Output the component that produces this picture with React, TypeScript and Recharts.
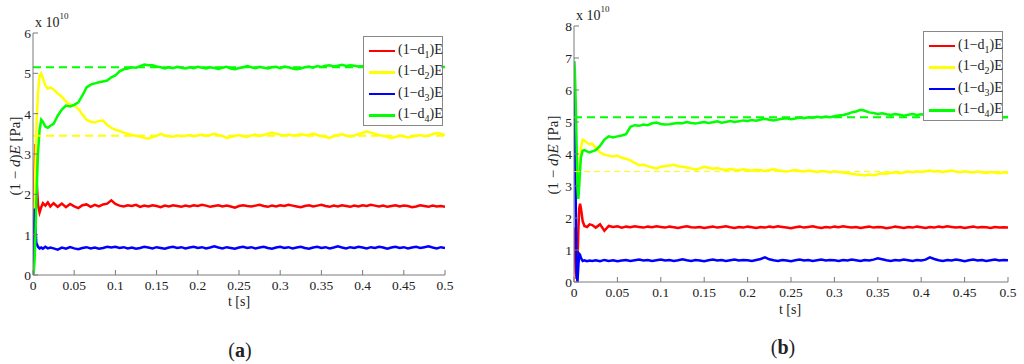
import React from 'react';
import { LineChart, Line, XAxis, YAxis, ReferenceLine } from 'recharts';

// ---------- time grids ----------
const tA = [0, 0.001, 0.002, 0.003, 0.004, 0.006, 0.008, 0.01, 0.012, 0.015, 0.018, 0.021,
  0.025, 0.03, 0.035, 0.04, 0.045, 0.05, 0.055, 0.06, 0.065, 0.07, 0.075, 0.08, 0.085, 0.09, 0.095, 0.1,
  0.105, 0.11, 0.115, 0.12, 0.125, 0.13, 0.135, 0.14, 0.145, 0.15, 0.155, 0.16, 0.165, 0.17, 0.175, 0.18, 0.185, 0.19, 0.195, 0.2,
  0.205, 0.21, 0.215, 0.22, 0.225, 0.23, 0.235, 0.24, 0.245, 0.25, 0.255, 0.26, 0.265, 0.27, 0.275, 0.28, 0.285, 0.29, 0.295, 0.3,
  0.305, 0.31, 0.315, 0.32, 0.325, 0.33, 0.335, 0.34, 0.345, 0.35, 0.355, 0.36, 0.365, 0.37, 0.375, 0.38, 0.385, 0.39, 0.395, 0.4,
  0.405, 0.41, 0.415, 0.42, 0.425, 0.43, 0.435, 0.44, 0.445, 0.45, 0.455, 0.46, 0.465, 0.47, 0.475, 0.48, 0.485, 0.49, 0.495, 0.5];

const tB = [0, 0.001, 0.002, 0.003, 0.004, 0.005, 0.006, 0.007, 0.008, 0.01, 0.012, 0.015, 0.018, 0.021,
  0.025, 0.03, 0.035, 0.04, 0.045, 0.05, 0.055, 0.06, 0.065, 0.07, 0.075, 0.08, 0.085, 0.09, 0.095, 0.1,
  0.105, 0.11, 0.115, 0.12, 0.125, 0.13, 0.135, 0.14, 0.145, 0.15, 0.155, 0.16, 0.165, 0.17, 0.175, 0.18, 0.185, 0.19, 0.195, 0.2,
  0.205, 0.21, 0.215, 0.22, 0.225, 0.23, 0.235, 0.24, 0.245, 0.25, 0.255, 0.26, 0.265, 0.27, 0.275, 0.28, 0.285, 0.29, 0.295, 0.3,
  0.305, 0.31, 0.315, 0.32, 0.325, 0.33, 0.335, 0.34, 0.345, 0.35, 0.355, 0.36, 0.365, 0.37, 0.375, 0.38, 0.385, 0.39, 0.395, 0.4,
  0.405, 0.41, 0.415, 0.42, 0.425, 0.43, 0.435, 0.44, 0.445, 0.45, 0.455, 0.46, 0.465, 0.47, 0.475, 0.48, 0.485, 0.49, 0.495, 0.5];

// ---------- chart (a) series, units of 1e10 Pa ----------
const redA = [0, 1.2, 2.6, 3.25, 2.5, 1.75, 1.55, 1.68, 1.78, 1.72, 1.8, 1.7,
  1.78, 1.69, 1.77, 1.68, 1.76, 1.7, 1.66, 1.73, 1.75, 1.69, 1.74, 1.7, 1.75, 1.77, 1.85, 1.76,
  1.72, 1.7, 1.73, 1.71, 1.74, 1.69, 1.72, 1.7, 1.73, 1.71, 1.68, 1.72, 1.7, 1.73, 1.71, 1.69, 1.72, 1.7, 1.73, 1.71,
  1.74, 1.72, 1.69, 1.71, 1.73, 1.7, 1.72, 1.7, 1.67, 1.71, 1.73, 1.71, 1.7, 1.72, 1.74, 1.71, 1.69, 1.72, 1.7, 1.73,
  1.71, 1.74, 1.72, 1.7, 1.68, 1.71, 1.73, 1.7, 1.72, 1.74, 1.71, 1.69, 1.72, 1.7, 1.73, 1.71, 1.69, 1.72, 1.7, 1.73,
  1.71, 1.74, 1.72, 1.7, 1.72, 1.69, 1.71, 1.73, 1.7, 1.72, 1.71, 1.68, 1.7, 1.73, 1.71, 1.69, 1.72, 1.7, 1.71, 1.69];

const yellowA = [0, 0.8, 1.8, 2.8, 3.6, 4.5, 4.95, 5.0, 4.88, 4.7, 4.62, 4.65,
  4.6, 4.5, 4.42, 4.3, 4.22, 4.2, 4.12, 3.98, 3.85, 3.8, 3.78, 3.82, 3.83, 3.72, 3.65, 3.6,
  3.57, 3.53, 3.5, 3.47, 3.45, 3.43, 3.4, 3.38, 3.42, 3.45, 3.5, 3.46, 3.44, 3.43, 3.46, 3.44, 3.45, 3.47, 3.44, 3.46,
  3.48, 3.45, 3.47, 3.5, 3.47, 3.45, 3.4, 3.42, 3.45, 3.47, 3.44, 3.42, 3.46, 3.48, 3.45, 3.47, 3.5, 3.53, 3.5, 3.48,
  3.46, 3.48, 3.46, 3.47, 3.49, 3.47, 3.48, 3.5, 3.47, 3.44, 3.42, 3.4, 3.44, 3.47, 3.49, 3.46, 3.43, 3.46, 3.5, 3.52,
  3.56, 3.53, 3.5, 3.47, 3.45, 3.42, 3.4, 3.42, 3.45, 3.44, 3.41, 3.43, 3.45, 3.47, 3.44, 3.46, 3.49, 3.52, 3.5, 3.47];

const blueA = [0, 0.9, 1.65, 1.2, 0.8, 0.7, 0.66, 0.68, 0.65, 0.7, 0.66, 0.68,
  0.66, 0.63, 0.68, 0.65, 0.69, 0.66, 0.64, 0.67, 0.69, 0.66, 0.68, 0.65, 0.67, 0.7, 0.68, 0.7,
  0.67, 0.69, 0.66, 0.68, 0.65, 0.67, 0.7, 0.68, 0.66, 0.69, 0.67, 0.65, 0.68, 0.7, 0.67, 0.69, 0.66, 0.68, 0.7, 0.67,
  0.69, 0.66, 0.68, 0.71, 0.68, 0.66, 0.69, 0.67, 0.65, 0.68, 0.7, 0.67, 0.69, 0.66, 0.68, 0.7, 0.67, 0.65, 0.68, 0.7,
  0.67, 0.69, 0.66, 0.68, 0.7, 0.67, 0.65, 0.68, 0.7, 0.67, 0.69, 0.66, 0.68, 0.71, 0.68, 0.66, 0.69, 0.67, 0.7, 0.68,
  0.66, 0.69, 0.67, 0.7, 0.68, 0.65, 0.68, 0.7, 0.67, 0.69, 0.66, 0.68, 0.7, 0.67, 0.69, 0.71, 0.68, 0.66, 0.69, 0.67];

const greenA = [0, 0.1, 0.4, 1.0, 1.8, 3.0, 3.6, 3.85, 3.8, 3.68, 3.65, 3.7,
  3.75, 3.95, 4.1, 4.2, 4.18, 4.22, 4.28, 4.45, 4.65, 4.72, 4.75, 4.78, 4.8, 4.82, 4.9, 4.95,
  5.05, 5.1, 5.12, 5.15, 5.14, 5.18, 5.22, 5.2, 5.2, 5.17, 5.15, 5.12, 5.15, 5.13, 5.16, 5.14, 5.12, 5.15, 5.13, 5.16,
  5.14, 5.12, 5.15, 5.13, 5.11, 5.14, 5.16, 5.12, 5.1, 5.13, 5.15, 5.18, 5.15, 5.13, 5.16, 5.14, 5.12, 5.15, 5.16, 5.13,
  5.17, 5.15, 5.12, 5.1, 5.12, 5.15, 5.17, 5.14, 5.18, 5.16, 5.19, 5.2, 5.17, 5.19, 5.21, 5.18, 5.2, 5.19, 5.17, 5.18,
  5.2, 5.17, 5.19, 5.16, 5.18, 5.2, 5.17, 5.19, 5.16, 5.18, 5.15, 5.17, 5.19, 5.16, 5.18, 5.2, 5.17, 5.16, 5.18, 5.15];

// ---------- chart (b) series ----------
const redB = [1.7, 1.0, 0.3, 0.1, 0.6, 1.6, 2.3, 2.45, 2.3, 1.9, 1.75, 1.72, 1.8, 1.78,
  1.7, 1.8, 1.6, 1.75, 1.72, 1.74, 1.7, 1.73, 1.71, 1.74, 1.72, 1.7, 1.73, 1.71, 1.74, 1.72,
  1.7, 1.73, 1.71, 1.69, 1.72, 1.74, 1.71, 1.7, 1.72, 1.69, 1.71, 1.73, 1.7, 1.72, 1.74, 1.71, 1.69, 1.72, 1.7, 1.73,
  1.71, 1.69, 1.72, 1.7, 1.73, 1.71, 1.74, 1.72, 1.7, 1.68, 1.71, 1.73, 1.7, 1.72, 1.74, 1.71, 1.69, 1.72, 1.7, 1.73,
  1.71, 1.74, 1.72, 1.7, 1.72, 1.69, 1.71, 1.73, 1.7, 1.72, 1.71, 1.68, 1.7, 1.73, 1.71, 1.69, 1.72, 1.7, 1.73, 1.71,
  1.69, 1.72, 1.7, 1.73, 1.71, 1.74, 1.72, 1.7, 1.72, 1.69, 1.71, 1.73, 1.7, 1.72, 1.71, 1.69, 1.72, 1.7, 1.71, 1.7];

const yellowB = [3.45, 3.3, 3.1, 2.9, 2.8, 2.75, 3.2, 3.8, 4.2, 4.45, 4.42, 4.35, 4.3, 4.32,
  4.2, 4.05, 3.98, 3.95, 3.92, 3.95, 3.88, 3.85, 3.8, 3.72, 3.65, 3.66, 3.62, 3.58, 3.55, 3.6,
  3.62, 3.64, 3.66, 3.62, 3.6, 3.58, 3.55, 3.52, 3.55, 3.6, 3.57, 3.54, 3.56, 3.52, 3.5, 3.53, 3.51, 3.49, 3.52, 3.5,
  3.48, 3.51, 3.49, 3.47, 3.5, 3.52, 3.49, 3.47, 3.45, 3.48, 3.5, 3.47, 3.45, 3.48, 3.46, 3.44, 3.47, 3.45, 3.43, 3.46,
  3.44, 3.42, 3.4, 3.38, 3.36, 3.35, 3.33, 3.36, 3.34, 3.37, 3.4, 3.38, 3.41, 3.43, 3.4, 3.42, 3.45, 3.43, 3.46, 3.44,
  3.46, 3.48, 3.45, 3.47, 3.44, 3.46, 3.48, 3.45, 3.43, 3.46, 3.44, 3.42, 3.45, 3.43, 3.41, 3.44, 3.42, 3.4, 3.43, 3.41];

const blueB = [6.9, 5.0, 2.5, 0.3, 0, 0.5, 0.88, 0.85, 0.75, 0.66, 0.68, 0.65, 0.67, 0.66,
  0.68, 0.65, 0.69, 0.66, 0.68, 0.65, 0.67, 0.69, 0.66, 0.68, 0.7, 0.67, 0.69, 0.66, 0.68, 0.7,
  0.67, 0.69, 0.66, 0.68, 0.71, 0.68, 0.66, 0.69, 0.67, 0.65, 0.68, 0.7, 0.67, 0.69, 0.66, 0.68, 0.7, 0.67, 0.69, 0.68,
  0.66, 0.69, 0.72, 0.77, 0.71, 0.68, 0.66, 0.69, 0.67, 0.65, 0.68, 0.7, 0.67, 0.69, 0.66, 0.68, 0.7, 0.67, 0.69, 0.68,
  0.66, 0.69, 0.67, 0.7, 0.68, 0.66, 0.69, 0.67, 0.7, 0.74, 0.71, 0.68, 0.66, 0.69, 0.67, 0.7, 0.68, 0.66, 0.69, 0.67,
  0.7, 0.77, 0.72, 0.68, 0.66, 0.69, 0.67, 0.7, 0.68, 0.65, 0.68, 0.7, 0.67, 0.69, 0.66, 0.68, 0.7, 0.67, 0.69, 0.68];

const greenB = [6.9, 6.6, 5.6, 4.3, 3.0, 2.6, 3.0, 3.5, 3.9, 4.1, 4.12, 4.08, 4.05, 4.08,
  4.12, 4.25, 4.45, 4.55, 4.52, 4.55, 4.58, 4.62, 4.85, 4.9, 4.88, 4.92, 4.9, 4.96, 4.98, 4.94,
  4.92, 4.93, 4.95, 4.97, 4.96, 5.0, 4.97, 4.95, 4.98, 5.0, 4.97, 4.99, 5.02, 4.98, 5.0, 5.03, 5.0, 5.02, 5.05, 5.03,
  5.06, 5.04, 5.08, 5.1, 5.07, 5.05, 5.08, 5.1, 5.12, 5.09, 5.11, 5.14, 5.12, 5.15, 5.13, 5.16, 5.14, 5.17, 5.15, 5.18,
  5.2, 5.22, 5.25, 5.3, 5.33, 5.38, 5.35, 5.3, 5.28, 5.25, 5.27, 5.24, 5.22, 5.25, 5.23, 5.2, 5.23, 5.25, 5.22, 5.24,
  5.22, 5.2, 5.23, 5.21, 5.19, 5.22, 5.2, 5.18, 5.21, 5.19, 5.22, 5.2, 5.18, 5.2, 5.17, 5.19, 5.16, 5.18, 5.15, 5.16];

// ---------- ticks and reference levels ----------
const xTicks = [0, 0.05, 0.1, 0.15, 0.2, 0.25, 0.3, 0.35, 0.4, 0.45, 0.5];
const yTicksA = [0, 1, 2, 3, 4, 5, 6];
const yTicksB = [0, 1, 2, 3, 4, 5, 6, 7, 8];
const refGreen = 5.15;
const refYellow = 3.45;
const legendIdx = ['1', '2', '3', '4'];

const COLORS = ['#ff0000', '#ffff00', '#0000ff', '#00ff00'];
const AXIS = '#7a7a7a';
const FONT = "'Liberation Serif', 'Times New Roman', Times, serif";
const LW = 2.5;

const dataA = tA.map((t, i) => ({ t, r: redA[i], y: yellowA[i], b: blueA[i], g: greenA[i] }));
const dataB = tB.map((t, i) => ({ t, r: redB[i], y: yellowB[i], b: blueB[i], g: greenB[i] }));

const XTick = (props: any) => {
  const { x, y, payload } = props;
  return (
    <g>
      <line x1={x} x2={x} y1={y} y2={y - 5} stroke={AXIS} strokeWidth={1} />
      <text x={x} y={y + 15} textAnchor="middle" style={{ fontFamily: FONT, fontSize: 13.5 }} fill="#222">
        {String(payload.value)}
      </text>
    </g>
  );
};

const YTick = (props: any) => {
  const { x, y, payload } = props;
  return (
    <g>
      <line x1={x} x2={x + 5} y1={y} y2={y} stroke={AXIS} strokeWidth={1} />
      <text x={x - 2} y={y + 5} textAnchor="end" style={{ fontFamily: FONT, fontSize: 13.5 }} fill="#222">
        {String(payload.value)}
      </text>
    </g>
  );
};

const Legend = ({ left, top, rowGap }: { left: number; top: number; rowGap: number }) => (
  <div
    style={{
      position: 'absolute', left, top, width: 80, height: rowGap * 4 + 4,
      border: '1px solid #888', background: '#fff', boxSizing: 'border-box',
      fontFamily: FONT, fontSize: 14, color: '#222',
    }}
  >
    {legendIdx.map((k, i) => (
      <div key={k} style={{ position: 'absolute', left: 5, top: 3 + i * rowGap, height: rowGap, display: 'flex', alignItems: 'center', whiteSpace: 'nowrap' }}>
        <div style={{ width: 26, height: 2.5, background: COLORS[i], marginRight: 3 }} />
        <span>(1−d<sub style={{ fontSize: 10 }}>{k}</sub>)E</span>
      </div>
    ))}
  </div>
);

const abs = (left: number, top: number, extra: any = {}) => ({
  position: 'absolute' as const, left, top, fontFamily: FONT, color: '#222', whiteSpace: 'nowrap' as const, ...extra,
});

const Panel = ({ data, yMax, yTicks, margin, width, height, thinYellow }: any) => (
  <LineChart width={width} height={height} data={data} margin={margin}>
    <XAxis dataKey="t" type="number" domain={[0, 0.5]} ticks={xTicks} tick={<XTick />} tickLine={false}
      tickSize={0} tickMargin={0} height={25} stroke={AXIS} axisLine={{ stroke: AXIS }} interval={0} allowDataOverflow />
    <YAxis type="number" domain={[0, yMax]} ticks={yTicks} tick={<YTick />} tickLine={false}
      tickSize={0} tickMargin={0} width={33} axisLine={{ stroke: AXIS }} interval={0} allowDataOverflow />
    <Line dataKey="r" stroke={COLORS[0]} strokeWidth={LW} dot={false} isAnimationActive={false} type="linear" />
    <Line dataKey="y" stroke={COLORS[1]} strokeWidth={LW} dot={false} isAnimationActive={false} type="linear" />
    <Line dataKey="b" stroke={COLORS[2]} strokeWidth={LW} dot={false} isAnimationActive={false} type="linear" />
    <Line dataKey="g" stroke={COLORS[3]} strokeWidth={LW} dot={false} isAnimationActive={false} type="linear" />
    <ReferenceLine y={refGreen} stroke={COLORS[3]} strokeWidth={2} strokeDasharray="8 5" />
    <ReferenceLine y={refYellow} stroke={COLORS[1]} strokeWidth={thinYellow ? 1 : 2} strokeDasharray={thinYellow ? '6 4' : '8 5'} />
  </LineChart>
);

export default function App() {
  return (
    <div style={{ position: 'absolute', left: 0, top: 0, width: 1024, height: 364, background: '#fff', overflow: 'hidden' }}>
      <div style={{ position: 'absolute', left: 0, top: 0 }}>
        <Panel data={dataA} yMax={6} yTicks={yTicksA} width={470} height={300}
          margin={{ top: 33, right: 25, bottom: 0, left: 0 }} thinYellow={false} />
      </div>
      <div style={{ position: 'absolute', left: 541, top: 0 }}>
        <Panel data={dataB} yMax={8} yTicks={yTicksB} width={483} height={307}
          margin={{ top: 26, right: 16, bottom: 0, left: 0 }} thinYellow />
      </div>

      <Legend left={363} top={36} rowGap={21.5} />
      <Legend left={923} top={31} rowGap={21.5} />

      {/* exponent labels */}
      <div style={abs(35, 15, { fontSize: 14 })}>x 10<sup style={{ fontSize: 9, verticalAlign: 'top', position: 'relative', top: -4 }}>10</sup></div>
      <div style={abs(576, 8, { fontSize: 14 })}>x 10<sup style={{ fontSize: 9, verticalAlign: 'top', position: 'relative', top: -4 }}>10</sup></div>

      {/* y labels */}
      <div style={abs(15, 156, { fontSize: 15, transform: 'translate(-50%, -50%) rotate(-90deg)' })}>
        (1 − <i>d</i>)<i>E</i> [Pa]
      </div>
      <div style={abs(553, 155, { fontSize: 15, transform: 'translate(-50%, -50%) rotate(-90deg)' })}>
        (1 − <i>d</i>)<i>E</i> [Pa]
      </div>

      {/* x labels */}
      <div style={abs(239, 302, { fontSize: 14, transform: 'translate(-50%, -50%)' })}>t [s]</div>
      <div style={abs(790, 310, { fontSize: 14, transform: 'translate(-50%, -50%)' })}>t [s]</div>

      {/* captions */}
      <div style={abs(240, 350, { fontSize: 20, transform: 'translate(-50%, -50%)' })}>(<b>a</b>)</div>
      <div style={abs(783, 347, { fontSize: 20, transform: 'translate(-50%, -50%)' })}>(<b>b</b>)</div>
    </div>
  );
}
